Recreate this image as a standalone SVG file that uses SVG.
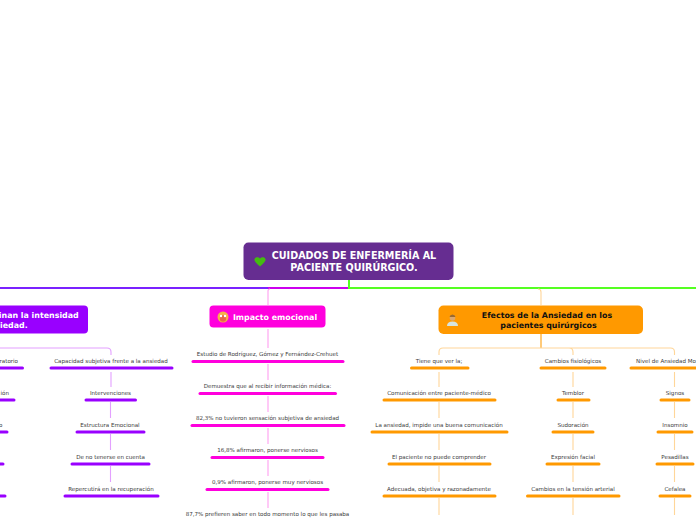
<svg xmlns="http://www.w3.org/2000/svg" width="696" height="520" viewBox="0 0 696 520">
<style>
text{font-family:"DejaVu Sans",Verdana,sans-serif}
.t{font-size:5.55px;fill:#3a3a3a;text-anchor:middle}
.h{font-size:7.9px;font-weight:bold;text-anchor:middle}
.r{font-size:9.6px;font-weight:bold;fill:#fff;text-anchor:middle}
.thin{fill:none;stroke-width:1.1}
.p{stroke:#e3a0ff}.m{stroke:#ff9ff0}.o{stroke:#ffd699}
.pb{stroke:#9900ff}.mb{stroke:#ff00dd}.ob{stroke:#ff9900}
.b{stroke-width:3;stroke-linecap:round;fill:none}
</style>
<g id="connectors">
<path d="M0 288H268" fill="none" stroke="#7a22ff" stroke-width="2"/>
<path d="M268 288H349" fill="none" stroke="#cc00ee" stroke-width="2"/>
<path d="M349 280V288H696" fill="none" stroke="#55ff22" stroke-width="2"/>
<path class="thin m" d="M268 305V291Q268 289 270 289"/>
<path class="thin o" d="M541 305V292Q541 289 538 289"/>
<path class="thin m" d="M268 329V348M268 364V380M268 396V412M268 428V444M268 460V476M268 492V508"/>
<path d="M541 334V348" fill="none" stroke="#ffb84d" stroke-width="1.5"/>
<path class="thin o" d="M439 355V352Q439 348 443 348H670.500Q674.500 348 674.500 352V355M573 355V352Q573 348 569 348"/>
<path class="thin o" d="M439 372V387M439 402V418M439 434V450M439 466V482M439 498V515"/>
<path class="thin o" d="M573 372V387M573 402V418M573 434V450M573 466V482M573 498V515"/>
<path class="thin o" d="M674.500 372V387M674.500 402V418M674.500 434V450M674.500 466V482M674.500 498V515"/>
<path class="thin p" d="M0 348H107Q111 348 111 352V355"/>
<path class="thin p" d="M111 372V387M110.500 402V418M110.500 434V450M110.500 466V482"/>
</g>
<g id="root">
<rect x="243.500" y="242.500" width="210" height="37.500" rx="5" fill="#662d91"/>
<path d="M260 266.500C256 263 254 261 254.500 259C255.500 256.500 258.500 256.800 260 258.500C261.500 256.800 264.500 256.500 265.500 259C266 261 264 263 260 266.500Z" fill="#44bb11"/>
<text class="r" x="354" y="259">CUIDADOS DE ENFERMERÍA AL</text>
<text class="r" x="354" y="271">PACIENTE QUIRÚRGICO.</text>
</g>
<g id="intensidad">
<rect x="-60" y="305.500" width="148" height="28" rx="4" fill="#9900ff"/>
<text class="h" fill="#fff" x="78.700" y="318" style="text-anchor:end">inan la intensidad</text>
<text x="0" y="328" class="h" fill="#fff" style="text-anchor:start">iedad.</text>
</g>
<g id="impacto">
<rect x="209.500" y="305.500" width="116" height="22" rx="4" fill="#ff00dd"/>
<circle cx="223" cy="317" r="5.500" fill="#f6b04a"/>
<circle cx="223" cy="318.500" r="3.200" fill="#e8674a"/>
<circle cx="221" cy="316" r="1.200" fill="#fff"/>
<circle cx="225" cy="316" r="1.200" fill="#fff"/>
<text class="h" fill="#fff" x="275" y="320">Impacto emocional</text>
</g>
<g id="efectos">
<rect x="438.500" y="305.500" width="204.500" height="28.500" rx="5" fill="#ff9900"/>
<circle cx="452.500" cy="318" r="2.800" fill="#dba870"/>
<path d="M449.500 317Q450 314.500 452.500 314.500Q455 314.500 455.500 317Z" fill="#9a6a30"/>
<path d="M447 326Q447 321.500 452.500 321.500Q458 321.500 458 326Z" fill="#d6e4e0"/>
<text class="h" fill="#111" x="547" y="318">Efectos de la Ansiedad en los</text>
<text class="h" fill="#111" x="548.500" y="328">pacientes quirúrgicos</text>
</g>
<g id="left-items">
<text class="t" x="18" y="363" style="text-anchor:end">ratorio</text><path class="b pb" d="M0 368H22.500"/>
<text class="t" x="9" y="395" style="text-anchor:end">ión</text><path class="b pb" d="M0 400H14"/>
<text class="t" x="2.500" y="427" style="text-anchor:end">o</text><path class="b pb" d="M0 432H7"/>
<path class="b pb" d="M0 464H3"/>
<path class="b pb" d="M0 496H5"/>
</g>
<g id="capacidad">
<text class="t" x="111" y="363">Capacidad subjetiva frente a la ansiedad</text><path class="b pb" d="M51 368H172"/>
<text class="t" x="110.500" y="395">Intervenciones</text><path class="b pb" d="M86 400H135.500"/>
<text class="t" x="110" y="427">Estructura Emocional</text><path class="b pb" d="M77 432H144"/>
<text class="t" x="110.500" y="459">De no tenerse en cuenta</text><path class="b pb" d="M72 464H149"/>
<text class="t" x="111" y="491">Repercutirá en la recuperación</text><path class="b pb" d="M65 496H158"/>
</g>
<g id="impacto-items">
<text class="t" x="267.500" y="356">Estudio de Rodríguez, Gómez y Fernández-Crehuet</text><path class="b mb" d="M193 361.500H343"/>
<text class="t" x="267.500" y="388">Demuestra que al recibir información médica:</text><path class="b mb" d="M200 393.500H335.500"/>
<text class="t" x="267.500" y="420">82,3% no tuvieron sensación subjetiva de ansiedad</text><path class="b mb" d="M192 425.500H344"/>
<text class="t" x="267.500" y="452">16,8% afirmaron, ponerse nerviosos</text><path class="b mb" d="M212 457.500H323"/>
<text class="t" x="267.500" y="484">0,9% afirmaron, ponerse muy nerviosos</text><path class="b mb" d="M207 489.500H328"/>
<text class="t" x="267.500" y="516">87,7% prefieren saber en todo momento lo que les pasaba</text>
</g>
<g id="comunicacion">
<text class="t" x="439" y="363">Tiene que ver la;</text><path class="b ob" d="M411.500 368H468"/>
<text class="t" x="439" y="395">Comunicación entre paciente-médico</text><path class="b ob" d="M384 400H495"/>
<text class="t" x="439" y="427">La ansiedad, impide una buena comunicación</text><path class="b ob" d="M372 432H507"/>
<text class="t" x="439" y="459">El paciente no puede comprender</text><path class="b ob" d="M389 464H490"/>
<text class="t" x="439" y="491">Adecuada, objetiva y razonadamente</text><path class="b ob" d="M384 496H495"/>
</g>
<g id="fisiologicos">
<text class="t" x="573" y="363">Cambios fisiológicos</text><path class="b ob" d="M541 368H605"/>
<text class="t" x="573" y="395">Temblor</text><path class="b ob" d="M558 400H589"/>
<text class="t" x="573" y="427">Sudoración</text><path class="b ob" d="M553 432H593"/>
<text class="t" x="573" y="459">Expresión facial</text><path class="b ob" d="M547 464H599"/>
<text class="t" x="573" y="491">Cambios en la tensión arterial</text><path class="b ob" d="M527.500 496H619"/>
</g>
<g id="moderada">
<text class="t" x="636" y="363" style="text-anchor:start">Nivel de Ansiedad Mod</text><path class="b ob" d="M631 368H696"/>
<text class="t" x="675" y="395">Signos</text><path class="b ob" d="M661 400H689"/>
<text class="t" x="675" y="427">Insomnio</text><path class="b ob" d="M658 432H692"/>
<text class="t" x="675" y="459">Pesadillas</text><path class="b ob" d="M657 464H693"/>
<text class="t" x="675" y="491">Cefalea</text><path class="b ob" d="M660 496H690"/>
</g>
</svg>
